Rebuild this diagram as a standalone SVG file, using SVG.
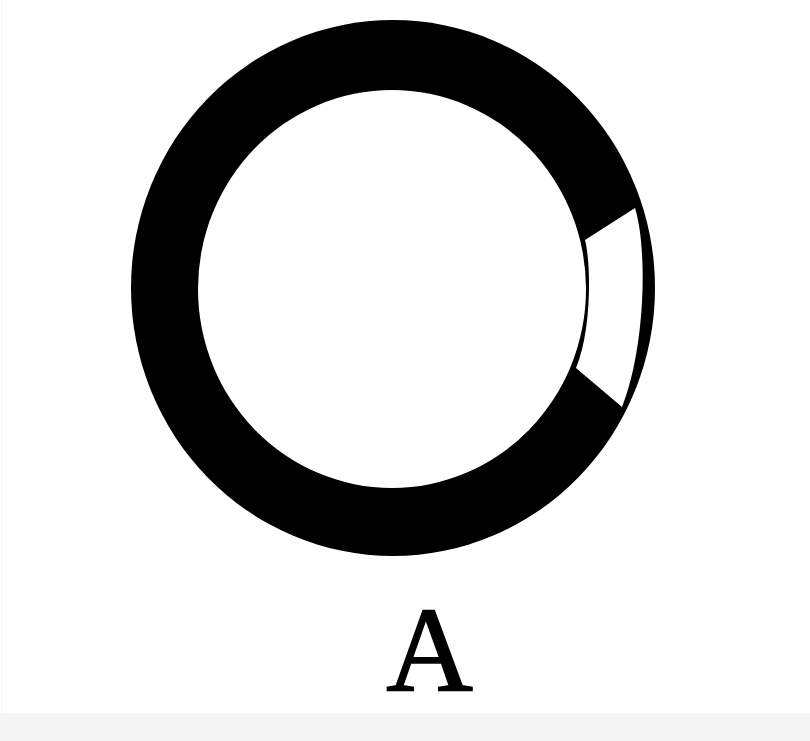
<svg xmlns="http://www.w3.org/2000/svg" width="810" height="741" viewBox="0 0 810 741">
  <style>
    .label { font-family: "Liberation Serif", "Times New Roman", serif; font-size: 120px; fill: #000; stroke: #000; stroke-width: 1.6px; }
  </style>
  <rect x="0" y="0" width="810" height="741" fill="#ffffff"/>
  <rect x="1" y="0" width="1" height="713" fill="#f6f6f6"/>
  <rect x="0" y="713" width="810" height="28" fill="#f5f5f5"/>
  <g id="ring">
    <ellipse cx="393" cy="288" rx="262" ry="268" fill="#000"/>
    <ellipse cx="392" cy="289" rx="194" ry="199" fill="#fff"/>
    <path d="M635,208 L585,240 C591,262 592,330 576,368 L622,407 C645,350 648,250 635,208 Z" fill="#fff"/>
  </g>
  <g id="label-A">
    <text class="label" x="429.5" y="691" text-anchor="middle">A</text>
  </g>
</svg>
